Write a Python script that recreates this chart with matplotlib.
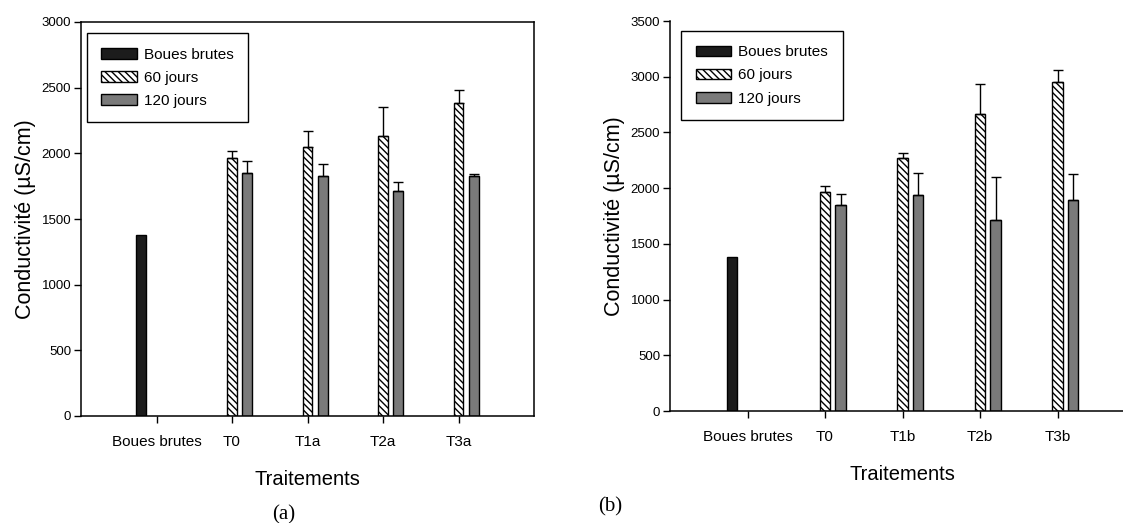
import matplotlib
matplotlib.use("Agg")
import matplotlib.pyplot as plt
import numpy as np

plt.rcParams['font.family'] = ['Liberation Sans', 'DejaVu Sans']
plt.rcParams['hatch.linewidth'] = 1.0

# categories / tick labels
cats_a = ["Boues brutes", "T0", "T1a", "T2a", "T3a"]
cats_b = ["Boues brutes", "T0", "T1b", "T2b", "T3b"]
series = ["Boues brutes", "60 jours", "120 jours"]

# values (µS/cm)
boues = 1380
sixty_a = [1965, 2050, 2130, 2385]
sixty_a_err = [55, 122, 225, 100]
j120_a = [1852, 1830, 1712, 1825]
j120_a_err = [90, 91, 70, 18]

sixty_b = [1962, 2275, 2662, 2955]
sixty_b_err = [59, 42, 269, 105]
j120_b = [1845, 1937, 1713, 1898]
j120_b_err = [98, 195, 383, 225]

W, H = 1123, 523
fig = plt.figure(figsize=(W / 100, H / 100), dpi=100)


def panel(rect, cats, s60, e60, s120, e120, ymax, top_spine, leg_anchor):
    ax = fig.add_axes(rect)
    x = np.arange(len(cats))
    w = 0.13
    b0 = ax.bar(x[0] - 0.2, boues, w, color='#1c1c1c', edgecolor='black', lw=1, label=series[0])
    b1 = ax.bar(x[1:], s60, w, color='white', edgecolor='black', lw=1, hatch='\\\\\\\\\\', label=series[1])
    b2 = ax.bar(x[1:] + 0.2, s120, w, color='#7a7a7a', edgecolor='black', lw=1, label=series[2])
    ax.errorbar(x[1:], s60, yerr=[np.zeros(len(e60)), e60], fmt='none', ecolor='black',
                elinewidth=1, capsize=3.5, capthick=1)
    ax.errorbar(x[1:] + 0.2, s120, yerr=[np.zeros(len(e120)), e120], fmt='none', ecolor='black',
                elinewidth=1, capsize=3.5, capthick=1)
    ax.set_xlim(-1, 5)
    ax.set_ylim(0, ymax)
    ax.set_yticks(np.arange(0, ymax + 1, 500))
    ax.set_xticks(x)
    ax.set_xticklabels(cats, fontsize=11)
    ax.tick_params(axis='y', labelsize=9.5, length=5, width=1, pad=2)
    ax.tick_params(axis='x', length=5, width=1, pad=9)
    for s in ax.spines.values():
        s.set_linewidth(1.1)
    ax.spines['top'].set_visible(top_spine)
    ax.set_ylabel("Conductivité (µS/cm)", fontsize=15.5, labelpad=4)
    ax.set_xlabel("Traitements", fontsize=14.5, labelpad=15)
    leg = ax.legend(handles=[b0, b1, b2], loc='upper left', bbox_to_anchor=leg_anchor,
                    borderaxespad=0, fancybox=False, framealpha=1, edgecolor='black',
                    fontsize=11, handlelength=2.3, handleheight=0.7, labelspacing=0.6,
                    borderpad=0.95, handletextpad=0.5)
    leg.get_frame().set_linewidth(1)
    return ax


ax1 = panel([81 / W, 1 - 416 / H, 453 / W, 394 / H], cats_a, sixty_a, sixty_a_err,
            j120_a, j120_a_err, 3000, True, (0.013, 0.972))
ax2 = panel([670 / W, 1 - 411 / H, 465 / W, 390 / H], cats_b, sixty_b, sixty_b_err,
            j120_b, j120_b_err, 3500, False, (0.024, 0.975))

fig.text(284 / W, 1 - 515 / H, "(a)", family='Liberation Serif', fontsize=15, ha='center', va='center')
fig.text(610 / W, 1 - 507 / H, "(b)", family='Liberation Serif', fontsize=15, ha='center', va='center')

fig.savefig("out.png", dpi=100)
